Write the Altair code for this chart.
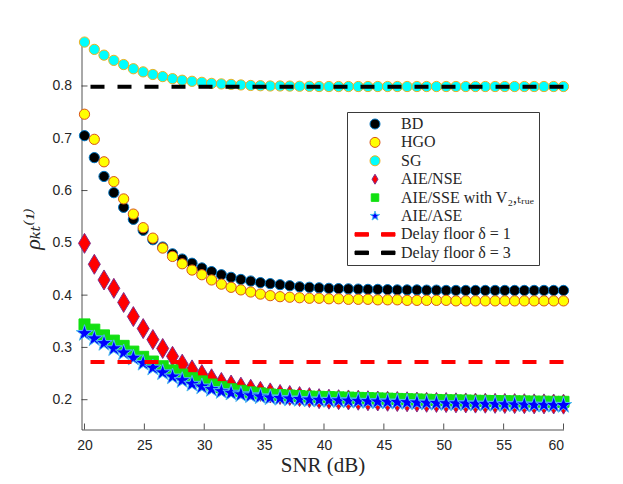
import altair as alt
import pandas as pd

snr = [20.00, 20.82, 21.63, 22.45, 23.27, 24.08, 24.90, 25.71, 26.53, 27.35,
       28.16, 28.98, 29.80, 30.61, 31.43, 32.24, 33.06, 33.88, 34.69, 35.51,
       36.33, 37.14, 37.96, 38.78, 39.59, 40.41, 41.22, 42.04, 42.86, 43.67,
       44.49, 45.31, 46.12, 46.94, 47.76, 48.57, 49.39, 50.20, 51.02, 51.84,
       52.65, 53.47, 54.29, 55.10, 55.92, 56.73, 57.55, 58.37, 59.18, 60.00]

bd = [0.705, 0.663, 0.627, 0.596, 0.568, 0.545, 0.524, 0.506, 0.492, 0.479,
      0.469, 0.461, 0.452, 0.445, 0.439, 0.434, 0.430, 0.427, 0.424, 0.422,
      0.420, 0.418, 0.416, 0.415, 0.414, 0.413, 0.4125, 0.412, 0.4115, 0.411,
      0.411, 0.4105, 0.410, 0.410, 0.410, 0.4095, 0.4095, 0.409, 0.409, 0.409,
      0.409, 0.409, 0.409, 0.409, 0.409, 0.409, 0.409, 0.409, 0.409, 0.409]

hgo = [0.746, 0.698, 0.655, 0.617, 0.584, 0.555, 0.529, 0.509, 0.490, 0.474,
       0.460, 0.448, 0.439, 0.429, 0.421, 0.415, 0.410, 0.406, 0.402, 0.399,
       0.397, 0.396, 0.395, 0.394, 0.394, 0.393, 0.393, 0.392, 0.392, 0.392,
       0.391, 0.391, 0.391, 0.390, 0.390, 0.390, 0.390, 0.390, 0.389, 0.389,
       0.389, 0.389, 0.389, 0.389, 0.389, 0.389, 0.389, 0.389, 0.389, 0.389]

sg = [0.884, 0.870, 0.859, 0.849, 0.841, 0.833, 0.827, 0.822, 0.818, 0.814,
      0.811, 0.809, 0.807, 0.805, 0.804, 0.803, 0.802, 0.801, 0.8005, 0.800,
      0.800, 0.7998, 0.7995, 0.7993, 0.799, 0.799, 0.799, 0.799, 0.799, 0.799,
      0.799, 0.799, 0.799, 0.799, 0.799, 0.799, 0.799, 0.799, 0.799, 0.799,
      0.799, 0.799, 0.799, 0.799, 0.799, 0.799, 0.799, 0.799, 0.799, 0.799]

nse = [0.499, 0.459, 0.429, 0.413, 0.386, 0.359, 0.336, 0.315, 0.298, 0.283,
       0.268, 0.257, 0.248, 0.240, 0.233, 0.228, 0.224, 0.220, 0.216, 0.213,
       0.210, 0.208, 0.206, 0.204, 0.202, 0.201, 0.200, 0.1995, 0.199, 0.198,
       0.1975, 0.197, 0.1965, 0.196, 0.1955, 0.195, 0.1948, 0.1945, 0.194, 0.1938,
       0.1935, 0.1933, 0.193, 0.1928, 0.1925, 0.1923, 0.192, 0.192, 0.1918, 0.1915]

sse = [0.344, 0.334, 0.323, 0.313, 0.303, 0.292, 0.282, 0.273, 0.264, 0.256,
       0.248, 0.241, 0.235, 0.229, 0.224, 0.220, 0.217, 0.214, 0.212, 0.210,
       0.209, 0.208, 0.207, 0.206, 0.2055, 0.205, 0.2045, 0.204, 0.2035, 0.203,
       0.2025, 0.202, 0.2015, 0.201, 0.2005, 0.200, 0.1995, 0.199, 0.1988, 0.1985,
       0.198, 0.1978, 0.1975, 0.1972, 0.197, 0.1968, 0.1965, 0.1963, 0.196, 0.196]

ase = [0.327, 0.317, 0.308, 0.298, 0.290, 0.280, 0.270, 0.261, 0.252, 0.244,
       0.237, 0.230, 0.225, 0.220, 0.216, 0.213, 0.210, 0.208, 0.206, 0.204,
       0.203, 0.202, 0.201, 0.200, 0.1995, 0.199, 0.1985, 0.198, 0.1975, 0.197,
       0.1965, 0.196, 0.1955, 0.195, 0.1945, 0.194, 0.1935, 0.193, 0.1928, 0.1925,
       0.192, 0.1918, 0.1915, 0.191, 0.1908, 0.1905, 0.190, 0.190, 0.1898, 0.1895]

series_names = ["BD", "HGO", "SG", "AIE/NSE", "AIE/SSE with V\u2082,\u209c\u1d63\u1d64\u2091",
                "AIE/ASE", "Delay floor \u03b4 = 1", "Delay floor \u03b4 = 3"]
floor_values = [0.2723, 0.7987]

x_ticks = [20, 25, 30, 35, 40, 45, 50, 55, 60]
y_ticks = [0.2, 0.3, 0.4, 0.5, 0.6, 0.7, 0.8]

# ---- tables built from the arrays above ----
rows = []
for name, vals in zip(series_names[:6], [bd, hgo, sg, nse, sse, ase]):
    for xv, yv in zip(snr, vals):
        rows.append({"snr": xv, "rho": yv, "series": name})
points_df = pd.DataFrame(rows)
floors_df = pd.DataFrame({"series": series_names[6:], "rho": floor_values})
xt_df = pd.DataFrame({"snr": x_ticks})
yt_df = pd.DataFrame({"rho": y_ticks})

AX = "#262626"
SERIF = "Liberation Serif, DejaVu Serif, serif"
SANS = "Liberation Sans, Arial, sans-serif"
H = 389
DIAMOND = "M0,-1L0.6,0L0,1L-0.6,0Z"
SQUARE = "M-0.75,-0.75H0.75V0.75H-0.75Z"
STAR = ("M0,-1L0.2245,-0.309L0.951,-0.309L0.363,0.118L0.588,0.809L0,0.382"
        "L-0.588,0.809L-0.363,0.118L-0.951,-0.309L-0.2245,-0.309Z")
DASH = "M-4,-0.35H-1.3V0.35H-4Z M1.3,-0.35H4V0.35H1.3Z"

fill_scale = alt.Scale(domain=series_names,
                       range=["#000000", "#FFFF00", "#00FFFF", "#FF0000", "#11E011",
                              "#0000FF", "#FF0000", "#000000"])
stroke_scale = alt.Scale(domain=series_names,
                         range=["#0072BD", "#D95319", "#EDB120", "#7E2F8E", "#11E011",
                                "#4DBEEE", "#FF0000", "#000000"])
shape_scale = alt.Scale(domain=series_names,
                        range=["circle", "circle", "circle", DIAMOND, SQUARE, STAR, DASH, DASH])
size_scale = alt.Scale(type="ordinal", domain=series_names[:6],
                       range=[105, 105, 105, 400, 215, 300])

xscale = alt.Scale(domain=[19.75, 60], nice=False, zero=False)
yscale = alt.Scale(domain=[0.143, 0.887], nice=False, zero=False)

xaxis = alt.Axis(orient="bottom", values=x_ticks, format="d", ticks=False, tickSize=0, grid=False,
                 labelPadding=9, labelFont=SANS, labelFontSize=14, labelColor=AX,
                 domainColor=AX, domainWidth=0.8,
                 title="SNR (dB)", titleFont=SERIF, titleFontSize=21,
                 titleFontWeight="normal", titleColor=AX, titleY=41.5, titleBaseline="alphabetic")
yaxis = alt.Axis(orient="left", values=y_ticks, format=".1f", ticks=False, tickSize=0, grid=False,
                 labelPadding=10, labelFont=SANS, labelFontSize=14, labelColor=AX,
                 domainColor=AX, domainWidth=0.8,
                 title="\u03c1\u2096\u209c\u207d\u00b9\u207e", titleFont=SERIF,
                 titleFontSize=22, titleFontStyle="italic", titleFontWeight="normal",
                 titleColor=AX, titleAngle=270, titleX=-49, titleY=188,
                 titleAlign="center", titleBaseline="middle")

X = alt.X("snr:Q", scale=xscale, axis=xaxis)
Y = alt.Y("rho:Q", scale=yscale, axis=yaxis)
leg = alt.Legend(title=None)

xticks_layer = alt.Chart(xt_df).mark_rule(color=AX, strokeWidth=0.8).encode(
    x=X, y=alt.value(H), y2=alt.value(H - 6))
yticks_layer = alt.Chart(yt_df).mark_rule(color=AX, strokeWidth=0.8).encode(
    y=Y, x=alt.value(0), x2=alt.value(6))

points = alt.Chart(points_df).mark_point(filled=True, opacity=1, strokeWidth=1).encode(
    x=X, y=Y,
    fill=alt.Fill("series:N", scale=fill_scale, legend=leg),
    stroke=alt.Stroke("series:N", scale=stroke_scale, legend=leg),
    shape=alt.Shape("series:N", scale=shape_scale, legend=leg),
    size=alt.Size("series:N", scale=size_scale, legend=None),
)

floors = alt.Chart(floors_df).mark_rule(strokeDash=[14, 13], strokeWidth=4).encode(
    y=Y,
    stroke=alt.Stroke("series:N", scale=stroke_scale, legend=leg),
)

chart = alt.layer(xticks_layer, yticks_layer, points, floors).properties(
    width=482, height=H,
    padding={"left": 73.5, "top": 32.5, "right": 40, "bottom": 46},
    autosize=alt.AutoSizeParams(type="none"),
).configure_view(strokeWidth=0).configure_legend(
    orient="none", legendX=265.5, legendY=71.5,
    padding=4, rowPadding=2.4, symbolOffset=16, labelOffset=18,
    labelFont=SERIF, labelFontSize=16, labelColor=AX, labelLimit=300,
    symbolSize=100, symbolStrokeWidth=1,
    strokeColor="#3a3a3a", fillColor="#FFFFFF",
)

chart.save("out.html", embed_options={"renderer": "svg", "actions": False})
